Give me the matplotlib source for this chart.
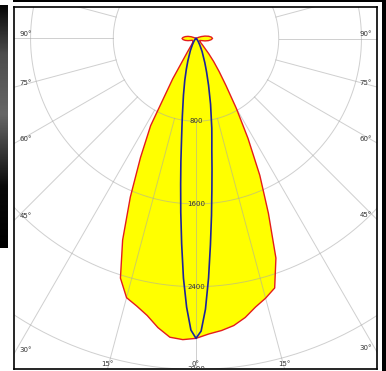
import numpy as np
import matplotlib
matplotlib.use('Agg')
import matplotlib.pyplot as plt

# luminous intensity (cd) per gamma angle, C0/C180 plane (filled)
gamma = [0, 2.5, 5, 7.5, 10, 12.5, 15, 17.5, 20, 22.5, 25, 27.5, 30, 32.5, 35, 37.5, 40,
         45, 50, 55, 60, 65, 70, 75, 80, 85, 90, 95, 100, 105, 110, 115, 120, 135, 150, 165, 180]
c180 = [2900, 2915, 2900, 2820, 2720, 2650, 2595, 2430, 2075, 1660, 1270, 950, 450, 150, 80, 60, 50,
        45, 40, 38, 38, 40, 55, 80, 105, 125, 135, 125, 105, 80, 50, 20, 0, 0, 0, 0, 0]
c0 = [2900, 2860, 2835, 2800, 2740, 2660, 2600, 2530, 2260, 1830, 1460, 1090, 780, 540, 390, 280, 190,
      90, 55, 45, 40, 45, 60, 90, 120, 145, 160, 150, 125, 90, 55, 25, 0, 0, 0, 0, 0]

# C90/C270 plane (line only)
gamma_b = [0, 1, 2, 3, 4, 5, 6, 7, 8, 9, 10, 12.5, 15, 17.5, 20, 25, 30, 35, 40, 50, 60, 70, 80, 90]
c270 = [2900, 2820, 2600, 2320, 1990, 1690, 1420, 1200, 1010, 870, 760, 560, 420, 310, 230,
        130, 70, 40, 25, 12, 6, 3, 0, 0]
c90 = [2900, 2830, 2620, 2320, 2000, 1720, 1470, 1270, 1100, 980, 880, 650, 470, 340, 250,
       140, 75, 42, 26, 12, 6, 3, 0, 0]

rings = [800, 1600, 2400, 3200, 4000]
ring_labels = ['800', '1600', '2400', '3200']
spokes = np.arange(0, 360, 15)
angle_ticks = [0, 15, 30, 45, 60, 75, 90]


def to_xy(g, r, side):
    g = np.radians(np.asarray(g, dtype=float))
    r = np.asarray(r, dtype=float)
    return side * r * np.sin(g), -r * np.cos(g)


W, H = 386, 371
fig = plt.figure(figsize=(W / 100, H / 100), dpi=100)
fig.patch.set_facecolor('white')

# frame in pixels
fx0, fx1, fy0, fy1 = 14, 377, 7, 369
ox, oy = 196, 38.5
s = 0.1034  # px per cd

ax = fig.add_axes([fx0 / W, (H - fy1) / H, (fx1 - fx0) / W, (fy1 - fy0) / H])
xmin, xmax = (fx0 - ox) / s, (fx1 - ox) / s
ymin, ymax = -(fy1 - oy) / s, (oy - fy0) / s
ax.set_xlim(xmin, xmax)
ax.set_ylim(ymin, ymax)
ax.set_aspect('equal')
ax.set_xticks([])
ax.set_yticks([])
for sp in ax.spines.values():
    sp.set_linewidth(1.2)
    sp.set_color('black')

# filled curve
lx, ly = to_xy(gamma[::-1], c180[::-1], -1)
rx, ry = to_xy(gamma, c0, 1)
px = np.concatenate([lx, rx])
py = np.concatenate([ly, ry])
ax.fill(px, py, color='#ffff00', zorder=1, lw=0)
ax.plot(px, py, color='#e41c1c', lw=1.0, zorder=4)

# blue curve
bx1, by1 = to_xy(gamma_b[::-1], c270[::-1], -1)
bx2, by2 = to_xy(gamma_b, c90, 1)
ax.plot(np.concatenate([bx1, bx2]), np.concatenate([by1, by2]),
        color='#1c239c', lw=1.2, zorder=5)

# grid
t = np.linspace(0, 2 * np.pi, 400)
for r in rings:
    ax.plot(r * np.sin(t), r * np.cos(t), color='#a8a8a8', lw=0.7, alpha=0.55, zorder=2)
for a in spokes:
    ar = np.radians(a)
    ax.plot([800 * np.sin(ar), 6000 * np.sin(ar)], [-800 * np.cos(ar), -6000 * np.cos(ar)],
            color='#a8a8a8', lw=0.7, alpha=0.55, zorder=2)

for r, lab in zip(rings, ring_labels):
    ax.text(0, -r, lab, ha='center', va='center', fontsize=5, color='#333333',
            zorder=6, clip_on=True)

# angle labels where spokes leave the frame
for a in angle_ticks:
    for side in ([1] if a == 0 else [-1, 1]):
        ar = np.radians(a)
        dx, dy = side * np.sin(ar), -np.cos(ar)
        tb = ymin / dy if dy < 0 else np.inf
        ts = (xmax / dx if dx > 0 else xmin / dx) if dx != 0 else np.inf
        lab = '%d°' % a
        if ts < tb:
            ye = ts * dy
            if side < 0:
                ax.annotate(lab, (xmin, ye), xytext=(4, 0.8), textcoords='offset points',
                            ha='left', va='bottom', fontsize=5, color='#333333', zorder=6)
            else:
                ax.annotate(lab, (xmax, ye), xytext=(-3.6, 0.8), textcoords='offset points',
                            ha='right', va='bottom', fontsize=5, color='#333333', zorder=6)
        else:
            ax.annotate(lab, (tb * dx, ymin), xytext=(0, 1.2), textcoords='offset points',
                        ha='center', va='bottom', fontsize=5, color='#333333', zorder=6)

# dark strip on the left edge
sax = fig.add_axes([0, (H - 248) / H, 8 / W, (248 - 5) / H])
yy = np.linspace(0, 1, 200)
shade = np.interp(yy, [0, 0.05, 0.2, 0.45, 0.6, 0.75, 1.0], [0.02, 0.1, 0.3, 0.4, 0.22, 0.04, 0.0])
sax.imshow(shade[:, None], cmap='gray', vmin=0, vmax=1, aspect='auto',
           extent=[0, 1, 0, 1], origin='upper')
sax.axis('off')

# outer border lines
bax = fig.add_axes([0, 0, 1, 1], facecolor='none')
bax.set_xlim(0, W)
bax.set_ylim(H, 0)
bax.axis('off')
bax.add_patch(plt.Rectangle((13, 0), W - 13, 1.5, color='black', lw=0))
bax.add_patch(plt.Rectangle((382, 0), 4, H, color='black', lw=0))

fig.savefig('out.png', dpi=100)
